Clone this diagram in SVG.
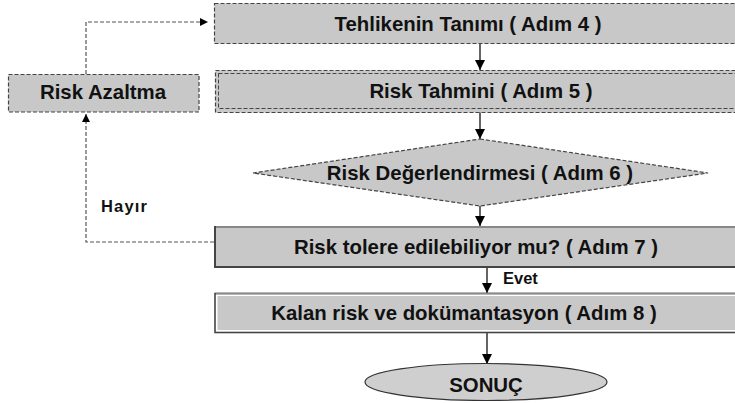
<svg xmlns="http://www.w3.org/2000/svg" width="735" height="403" viewBox="0 0 735 403">
<defs>
<style>
.t{font-family:"Liberation Sans",Arial,sans-serif;font-weight:bold;font-size:20.4px;fill:#111;text-anchor:middle}
.lbl{font-family:"Liberation Sans",Arial,sans-serif;font-weight:bold;font-size:16.5px;fill:#111}
.dash{fill:#c8c8c8;stroke:#444;stroke-width:1.2;stroke-dasharray:4 2}
.solid{stroke:#111;stroke-width:1.3;fill:none}
.dline{stroke:#555;stroke-width:1.2;stroke-dasharray:4 2;fill:none}
</style>
<marker id="ah" viewBox="0 0 10 10" refX="10" refY="5" markerWidth="10" markerHeight="10" markerUnits="userSpaceOnUse" orient="auto">
<path d="M0,0 L10,5 L0,10 z" fill="#000"/>
</marker>
<marker id="ahs" viewBox="0 0 10 10" refX="10" refY="5" markerWidth="8" markerHeight="8" markerUnits="userSpaceOnUse" orient="auto">
<path d="M0,0 L10,5 L0,10 z" fill="#000"/>
</marker>
</defs>
<rect width="735" height="403" fill="#fff"/>
<g id="connectors">
<line class="solid" x1="480" y1="44" x2="480" y2="70" marker-end="url(#ah)"/>
<line class="solid" x1="480" y1="112" x2="480" y2="139" marker-end="url(#ah)"/>
<line class="solid" x1="480" y1="206" x2="480" y2="226" marker-end="url(#ah)"/>
<line class="solid" x1="487" y1="267" x2="487" y2="293" marker-end="url(#ah)"/>
<line class="solid" x1="487" y1="333" x2="487" y2="364" marker-end="url(#ah)"/>
<polyline class="dline" points="86,74 86,22 208,22" marker-end="url(#ahs)"/>
<polyline class="dline" points="214,242 86,242 86,114" marker-end="url(#ahs)"/>
<text class="lbl" x="503" y="284">Evet</text>
<text class="lbl" x="101" y="212" textLength="46">Hayır</text>
</g>
<g id="n-azaltma">
<rect class="dash" x="8.5" y="74.5" width="190.5" height="37.5"/>
<text class="t" x="103" y="99">Risk Azaltma</text>
</g>
<g id="n-adim4">
<rect class="dash" x="214.5" y="3.5" width="540" height="40"/>
<text class="t" x="468" y="31">Tehlikenin Tanımı ( Adım 4 )</text>
</g>
<g id="n-adim5">
<rect class="dash" x="215.5" y="70.5" width="540" height="42"/>
<rect x="218.5" y="73.5" width="540" height="35" fill="none" stroke="#444" stroke-width="1" stroke-dasharray="4 2"/>
<text class="t" x="481" y="98">Risk Tahmini ( Adım 5 )</text>
</g>
<g id="n-adim6">
<polygon class="dash" points="480,139 708,173 480,206 253,173"/>
<text class="t" x="480" y="180">Risk Değerlendirmesi ( Adım 6 )</text>
</g>
<g id="n-adim7">
<rect x="215" y="227" width="540" height="40" fill="#c8c8c8" stroke="#444" stroke-width="2"/>
<line x1="216" y1="227" x2="755" y2="227" stroke="#888" stroke-width="2"/>
<text class="t" x="476" y="254">Risk tolere edilebiliyor mu? ( Adım 7 )</text>
</g>
<g id="n-adim8">
<rect x="215" y="293.5" width="540" height="39" fill="#fff" stroke="#444" stroke-width="1.6"/>
<line x1="216" y1="293.5" x2="755" y2="293.5" stroke="#888" stroke-width="1.6"/>
<rect x="217.5" y="296" width="540" height="34" fill="#c8c8c8"/>
<text class="t" x="464" y="320">Kalan risk ve dokümantasyon ( Adım 8 )</text>
</g>
<g id="n-sonuc">
<ellipse cx="486" cy="382" rx="121" ry="18.5" fill="#cfcfcf" stroke="#333" stroke-width="1.2"/>
<text class="t" x="486" y="392">SONUÇ</text>
</g>
</svg>
